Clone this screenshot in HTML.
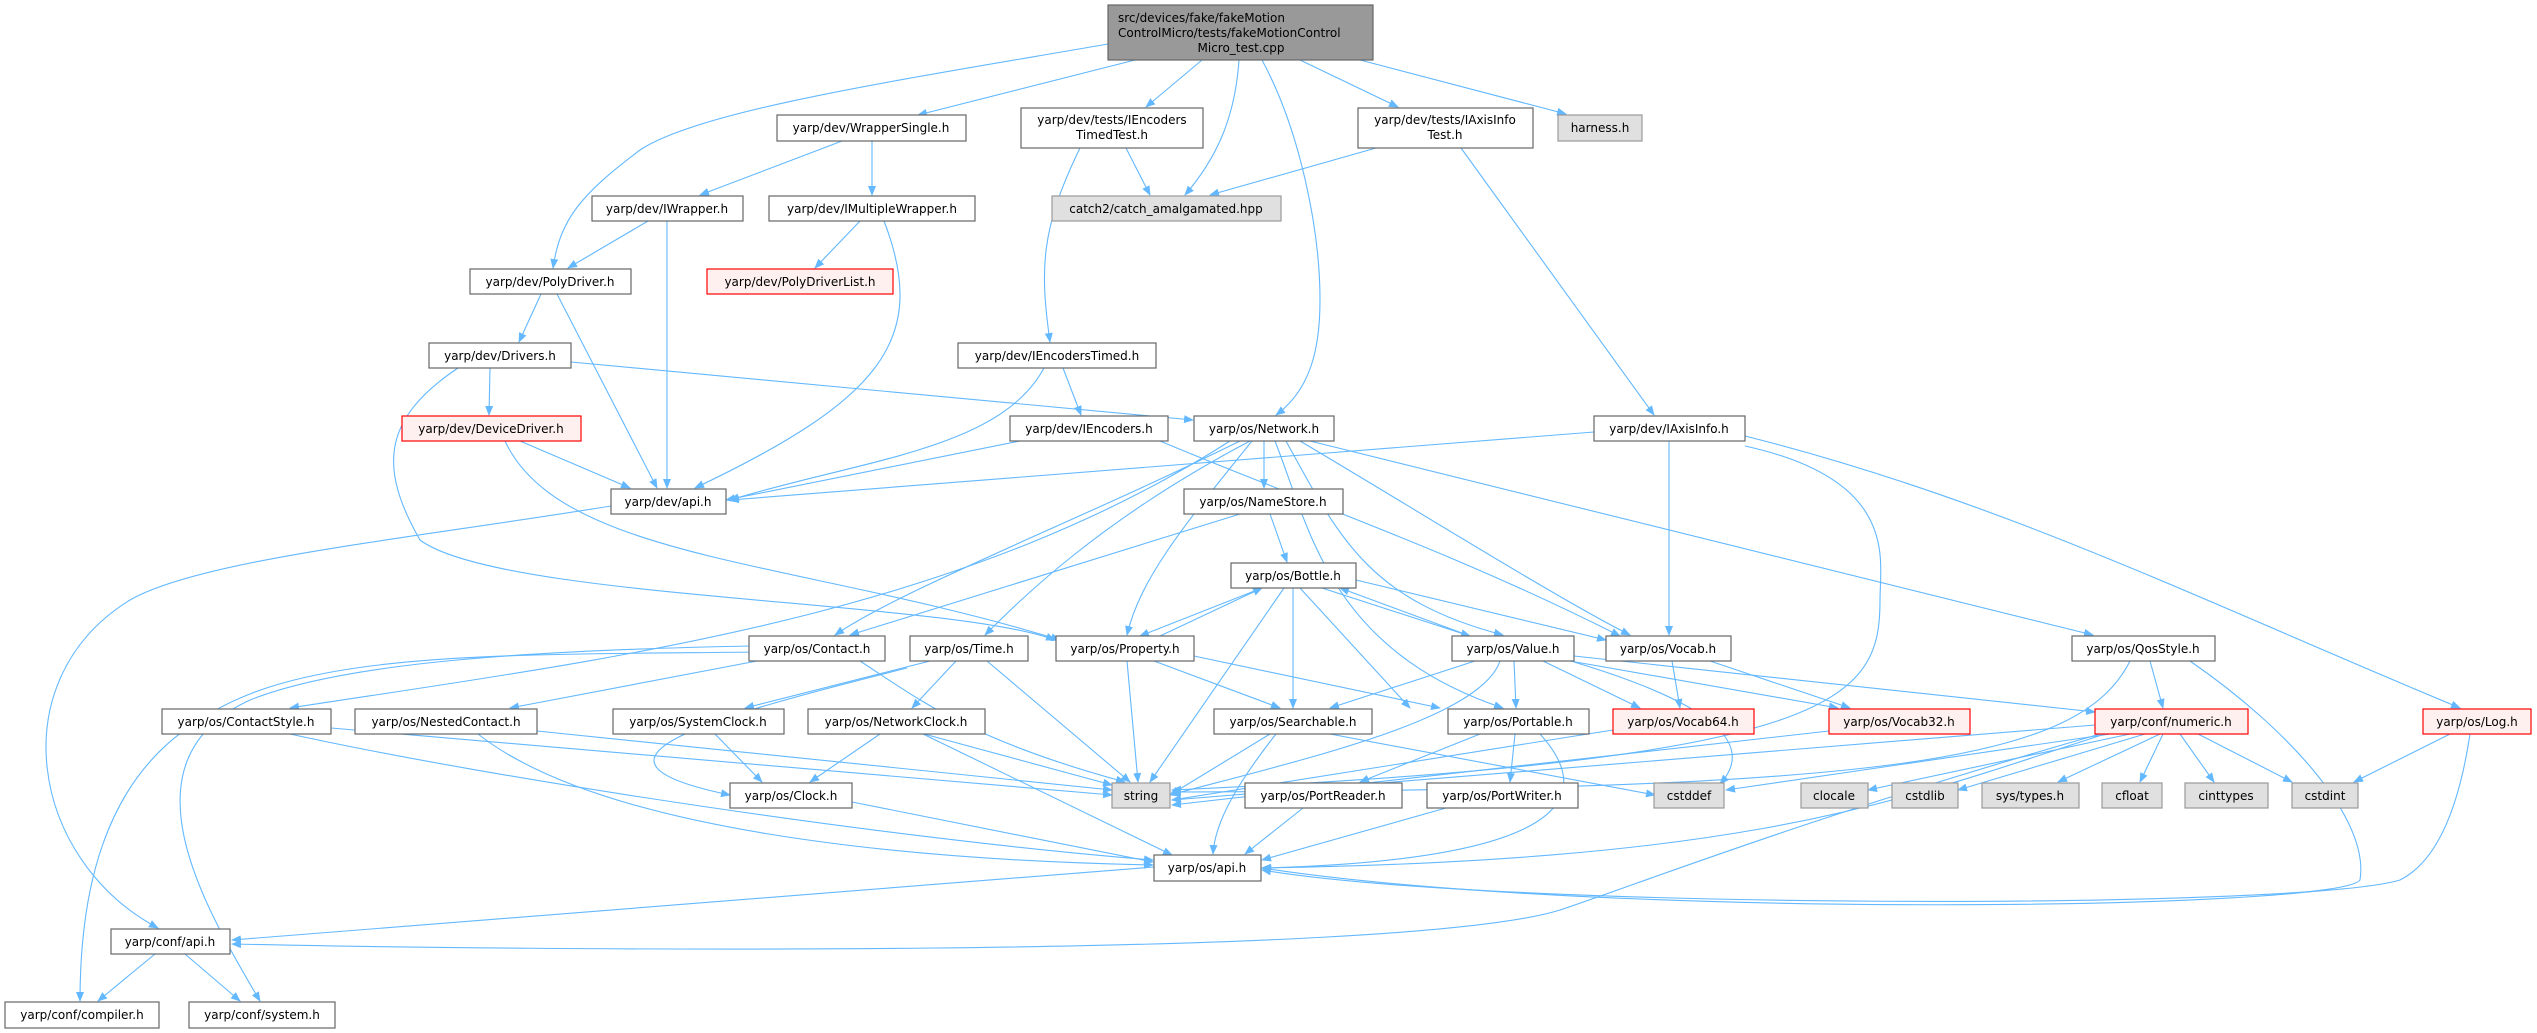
<!DOCTYPE html>
<html><head><meta charset="utf-8"><style>
html,body{margin:0;padding:0;background:#fff;}
svg{display:block;}
text{font-family:"DejaVu Sans","Liberation Sans",sans-serif;font-size:12px;fill:#000;}
.n{fill:#fff;stroke:#666;stroke-width:1.2;}
.g{fill:#e0e0e0;stroke:#999;stroke-width:1.2;}
.r{fill:#fff0f0;stroke:#f00;stroke-width:1.2;}
.e{fill:none;stroke:#63b8ff;stroke-width:1.1;marker-end:url(#a);}
</style></head><body>
<svg width="2537" height="1033" viewBox="0 0 2537 1033" xmlns="http://www.w3.org/2000/svg">
<defs><marker id="a" markerWidth="10" markerHeight="8" refX="9" refY="4" orient="auto" markerUnits="userSpaceOnUse"><path d="M0,0 L10,4 L0,8 z" fill="#63b8ff"/></marker></defs>
<g>
<path class="e" d="M1108,44 C900,80 700,110 640,150 C580,195 560,220 553,268"/>
<path class="e" d="M1135,60 L918,115"/>
<path class="e" d="M1202,60 L1146,107"/>
<path class="e" d="M1239,60 C1235,120 1215,160 1185,195"/>
<path class="e" d="M1262,60 C1300,130 1320,230 1320,300 C1320,350 1310,390 1276,415"/>
<path class="e" d="M1300,60 L1398,107"/>
<path class="e" d="M1360,60 L1566,114"/>
<path class="e" d="M842,141 L700,195"/>
<path class="e" d="M872,141 L872,195"/>
<path class="e" d="M1126,148 L1150,195"/>
<path class="e" d="M1080,148 C1040,230 1040,270 1050,342"/>
<path class="e" d="M1376,148 L1210,195"/>
<path class="e" d="M1461,148 L1654,415"/>
<path class="e" d="M648,221 L568,268"/>
<path class="e" d="M667,221 L667,488"/>
<path class="e" d="M860,221 L815,268"/>
<path class="e" d="M884,221 C930,340 880,400 695,488"/>
<path class="e" d="M541,294 L519,342"/>
<path class="e" d="M557,294 L657,488"/>
<path class="e" d="M490,368 L489,415"/>
<path class="e" d="M571,362 L1193,420"/>
<path class="e" d="M458,368 C380,420 380,470 420,540 C500,600 950,600 1055,640"/>
<path class="e" d="M1044,368 C1000,450 860,460 730,500"/>
<path class="e" d="M1063,368 L1081,415"/>
<path class="e" d="M520,441 L630,488"/>
<path class="e" d="M505,441 C560,560 800,560 1060,640"/>
<path class="e" d="M1020,441 L726,500"/>
<path class="e" d="M1160,441 C1300,500 1450,550 1620,636"/>
<path class="e" d="M1264,441 L1264,488"/>
<path class="e" d="M1240,441 C1080,520 900,590 835,635"/>
<path class="e" d="M1230,441 C950,620 600,660 290,708"/>
<path class="e" d="M1250,441 C1100,520 1020,600 985,635"/>
<path class="e" d="M1252,441 C1180,530 1140,580 1127,635"/>
<path class="e" d="M1286,441 C1340,540 1370,600 1503,635"/>
<path class="e" d="M1275,441 C1310,530 1330,650 1503,708"/>
<path class="e" d="M1300,441 C1400,500 1560,600 1630,635"/>
<path class="e" d="M1310,441 L2093,635"/>
<path class="e" d="M1594,432 L730,500"/>
<path class="e" d="M1669,441 L1669,635"/>
<path class="e" d="M1745,446 C1900,480 1880,560 1880,600 C1880,700 1840,760 1172,790"/>
<path class="e" d="M1745,436 C2000,500 2200,600 2460,708"/>
<path class="e" d="M611,506 C400,540 200,560 130,600 C0,680 30,860 158,928"/>
<path class="e" d="M1270,514 L1287,562"/>
<path class="e" d="M1240,514 L850,635"/>
<path class="e" d="M1262,588 L1140,636"/>
<path class="e" d="M1322,588 L1470,636"/>
<path class="e" d="M1356,580 L1606,640"/>
<path class="e" d="M1293,588 L1293,708"/>
<path class="e" d="M1300,588 L1410,708"/>
<path class="e" d="M1284,588 L1150,782"/>
<path class="e" d="M1160,636 L1262,588"/>
<path class="e" d="M1154,661 L1280,708"/>
<path class="e" d="M1194,656 L1440,708"/>
<path class="e" d="M1127,661 L1138,782"/>
<path class="e" d="M1470,636 L1340,588"/>
<path class="e" d="M1475,661 L1330,708"/>
<path class="e" d="M1514,661 L1516,708"/>
<path class="e" d="M1543,661 L1640,708"/>
<path class="e" d="M1570,661 L1838,708"/>
<path class="e" d="M1574,656 L2095,712"/>
<path class="e" d="M1500,661 C1480,720 1300,760 1170,795"/>
<path class="e" d="M1574,662 C1700,700 1760,740 1720,784"/>
<path class="e" d="M1672,661 L1680,708"/>
<path class="e" d="M1710,661 L1850,708"/>
<path class="e" d="M760,652 C500,655 300,650 200,720 C100,780 80,900 80,1001"/>
<path class="e" d="M750,646 C550,650 350,660 250,700 C120,760 200,900 260,1001"/>
<path class="e" d="M757,661 L510,708"/>
<path class="e" d="M860,661 C920,700 970,740 1125,782"/>
<path class="e" d="M930,661 L745,708"/>
<path class="e" d="M956,661 L912,708"/>
<path class="e" d="M987,661 L1130,782"/>
<path class="e" d="M907,668 C700,720 560,760 730,795"/>
<path class="e" d="M290,734 C500,780 900,840 1153,860"/>
<path class="e" d="M331,728 L1112,795"/>
<path class="e" d="M478,734 C600,830 900,860 1153,865"/>
<path class="e" d="M537,731 L1112,790"/>
<path class="e" d="M715,734 L762,782"/>
<path class="e" d="M880,734 L810,782"/>
<path class="e" d="M924,734 L1112,785"/>
<path class="e" d="M923,734 L1172,855"/>
<path class="e" d="M1270,734 L1170,795"/>
<path class="e" d="M1276,734 C1240,780 1215,820 1213,854"/>
<path class="e" d="M1330,734 L1655,795"/>
<path class="e" d="M1480,734 L1360,782"/>
<path class="e" d="M1515,734 L1510,782"/>
<path class="e" d="M1540,734 C1600,800 1560,860 1262,868"/>
<path class="e" d="M1613,730 L1172,800"/>
<path class="e" d="M1829,731 L1172,805"/>
<path class="e" d="M2095,725 L1172,800"/>
<path class="e" d="M2110,734 L1726,790"/>
<path class="e" d="M2130,734 L1868,790"/>
<path class="e" d="M2145,734 L1958,790"/>
<path class="e" d="M2160,734 L2058,782"/>
<path class="e" d="M2163,734 L2140,782"/>
<path class="e" d="M2180,734 L2214,782"/>
<path class="e" d="M2198,734 L2292,782"/>
<path class="e" d="M2105,734 C1900,800 1760,860 1262,868"/>
<path class="e" d="M2100,734 C1800,820 1650,880 1560,910 C1400,960 500,950 232,944"/>
<path class="e" d="M2130,661 C2080,760 1900,790 1172,792"/>
<path class="e" d="M2150,661 L2163,708"/>
<path class="e" d="M2190,661 C2290,730 2370,820 2360,880 C2340,910 1600,920 1262,868"/>
<path class="e" d="M2450,734 L2354,782"/>
<path class="e" d="M2470,734 C2460,800 2440,860 2400,880 C2300,910 1500,910 1262,870"/>
<path class="e" d="M1303,808 L1245,854"/>
<path class="e" d="M1446,808 L1262,860"/>
<path class="e" d="M852,802 L1153,862"/>
<path class="e" d="M1154,867 L232,940"/>
<path class="e" d="M155,954 L98,1001"/>
<path class="e" d="M185,954 L240,1001"/>
</g>
<rect x="1108" y="5" width="265" height="55" fill="#999" stroke="#666" stroke-width="1.2"/>
<text x="1118" y="22">src/devices/fake/fakeMotion</text>
<text x="1118" y="37">ControlMicro/tests/fakeMotionControl</text>
<text x="1241" y="52" text-anchor="middle">Micro_test.cpp</text>
<g text-anchor="middle">
<rect class="n" x="777" y="115" width="189" height="26"/><text x="871" y="132">yarp/dev/WrapperSingle.h</text>
<rect class="n" x="1021" y="108" width="182" height="40"/><text x="1112" y="124">yarp/dev/tests/IEncoders</text><text x="1112" y="139">TimedTest.h</text>
<rect class="n" x="1358" y="108" width="175" height="40"/><text x="1445" y="124">yarp/dev/tests/IAxisInfo</text><text x="1445" y="139">Test.h</text>
<rect class="g" x="1558" y="115" width="84" height="26"/><text x="1600" y="132">harness.h</text>
<rect class="n" x="592" y="196" width="151" height="25"/><text x="667" y="213">yarp/dev/IWrapper.h</text>
<rect class="n" x="769" y="196" width="206" height="25"/><text x="872" y="213">yarp/dev/IMultipleWrapper.h</text>
<rect class="g" x="1052" y="196" width="229" height="25"/><text x="1166" y="213">catch2/catch_amalgamated.hpp</text>
<rect class="n" x="470" y="269" width="161" height="25"/><text x="550" y="286">yarp/dev/PolyDriver.h</text>
<rect class="r" x="707" y="269" width="186" height="25"/><text x="800" y="286">yarp/dev/PolyDriverList.h</text>
<rect class="n" x="429" y="343" width="142" height="25"/><text x="500" y="360">yarp/dev/Drivers.h</text>
<rect class="n" x="958" y="343" width="198" height="25"/><text x="1057" y="360">yarp/dev/IEncodersTimed.h</text>
<rect class="r" x="402" y="416" width="179" height="25"/><text x="491" y="433">yarp/dev/DeviceDriver.h</text>
<rect class="n" x="1010" y="416" width="158" height="25"/><text x="1089" y="433">yarp/dev/IEncoders.h</text>
<rect class="n" x="1194" y="416" width="140" height="25"/><text x="1264" y="433">yarp/os/Network.h</text>
<rect class="n" x="1594" y="416" width="151" height="25"/><text x="1669" y="433">yarp/dev/IAxisInfo.h</text>
<rect class="n" x="611" y="489" width="115" height="25"/><text x="668" y="506">yarp/dev/api.h</text>
<rect class="n" x="1184" y="489" width="159" height="25"/><text x="1263" y="506">yarp/os/NameStore.h</text>
<rect class="n" x="1231" y="563" width="125" height="25"/><text x="1293" y="580">yarp/os/Bottle.h</text>
<rect class="n" x="749" y="636" width="136" height="25"/><text x="817" y="653">yarp/os/Contact.h</text>
<rect class="n" x="910" y="636" width="118" height="25"/><text x="969" y="653">yarp/os/Time.h</text>
<rect class="n" x="1056" y="636" width="138" height="25"/><text x="1125" y="653">yarp/os/Property.h</text>
<rect class="n" x="1452" y="636" width="122" height="25"/><text x="1513" y="653">yarp/os/Value.h</text>
<rect class="n" x="1606" y="636" width="125" height="25"/><text x="1668" y="653">yarp/os/Vocab.h</text>
<rect class="n" x="2072" y="636" width="143" height="25"/><text x="2143" y="653">yarp/os/QosStyle.h</text>
<rect class="n" x="162" y="709" width="169" height="25"/><text x="246" y="726">yarp/os/ContactStyle.h</text>
<rect class="n" x="355" y="709" width="182" height="25"/><text x="446" y="726">yarp/os/NestedContact.h</text>
<rect class="n" x="613" y="709" width="171" height="25"/><text x="698" y="726">yarp/os/SystemClock.h</text>
<rect class="n" x="808" y="709" width="177" height="25"/><text x="896" y="726">yarp/os/NetworkClock.h</text>
<rect class="n" x="1214" y="709" width="158" height="25"/><text x="1293" y="726">yarp/os/Searchable.h</text>
<rect class="n" x="1448" y="709" width="141" height="25"/><text x="1518" y="726">yarp/os/Portable.h</text>
<rect class="r" x="1613" y="709" width="141" height="25"/><text x="1683" y="726">yarp/os/Vocab64.h</text>
<rect class="r" x="1829" y="709" width="141" height="25"/><text x="1899" y="726">yarp/os/Vocab32.h</text>
<rect class="r" x="2095" y="709" width="153" height="25"/><text x="2171" y="726">yarp/conf/numeric.h</text>
<rect class="r" x="2423" y="709" width="108" height="25"/><text x="2477" y="726">yarp/os/Log.h</text>
<rect class="n" x="730" y="783" width="122" height="25"/><text x="791" y="800">yarp/os/Clock.h</text>
<rect class="g" x="1112" y="783" width="58" height="25"/><text x="1141" y="800">string</text>
<rect class="n" x="1245" y="783" width="157" height="25"/><text x="1323" y="800">yarp/os/PortReader.h</text>
<rect class="n" x="1427" y="783" width="151" height="25"/><text x="1502" y="800">yarp/os/PortWriter.h</text>
<rect class="g" x="1654" y="783" width="70" height="25"/><text x="1689" y="800">cstddef</text>
<rect class="g" x="1801" y="783" width="67" height="25"/><text x="1834" y="800">clocale</text>
<rect class="g" x="1892" y="783" width="66" height="25"/><text x="1925" y="800">cstdlib</text>
<rect class="g" x="1982" y="783" width="97" height="25"/><text x="2030" y="800">sys/types.h</text>
<rect class="g" x="2102" y="783" width="60" height="25"/><text x="2132" y="800">cfloat</text>
<rect class="g" x="2185" y="783" width="83" height="25"/><text x="2226" y="800">cinttypes</text>
<rect class="g" x="2292" y="783" width="66" height="25"/><text x="2325" y="800">cstdint</text>
<rect class="n" x="1154" y="855" width="107" height="26"/><text x="1207" y="872">yarp/os/api.h</text>
<rect class="n" x="111" y="929" width="119" height="25"/><text x="170" y="946">yarp/conf/api.h</text>
<rect class="n" x="5" y="1002" width="154" height="26"/><text x="82" y="1019">yarp/conf/compiler.h</text>
<rect class="n" x="189" y="1002" width="146" height="26"/><text x="262" y="1019">yarp/conf/system.h</text>
</g>
</svg>
</body></html>
